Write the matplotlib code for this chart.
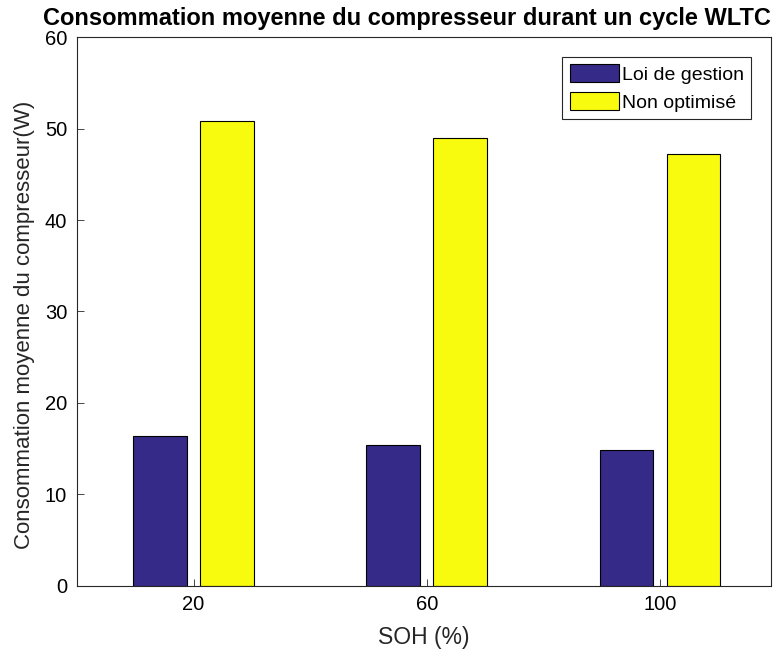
import numpy as np
import matplotlib.pyplot as plt

plt.rcParams['font.family'] = ['Liberation Sans', 'DejaVu Sans']

# Average compressor power over a WLTC cycle, per state of health
soh = [20, 60, 100]
loi_gestion = [16.4, 15.4, 14.9]
non_optimise = [50.8, 49.0, 47.2]
series_names = ['Loi de gestion', 'Non optimisé']
colors = ['#352a87', '#f9fb0e']

fig = plt.figure(figsize=(7.77, 6.53), dpi=100)
ax = fig.add_axes([0.099, 0.103, 0.893, 0.840])

x = np.array(soh)
offset = 5.75
width = 9.2
ax.bar(x - offset, loi_gestion, width, color=colors[0], edgecolor='black',
       linewidth=0.8, label=series_names[0])
ax.bar(x + offset, non_optimise, width, color=colors[1], edgecolor='black',
       linewidth=0.8, label=series_names[1])

ax.set_xlim(0, 119)
ax.set_ylim(0, 60)
ax.set_xticks(soh)
ax.set_yticks(np.arange(0, 61, 10))
ax.tick_params(direction='in', length=5, width=0.6, labelsize=14.5,
               colors='#262626', labelcolor='black', pad=7)
for s in ax.spines.values():
    s.set_color('#262626')
    s.set_linewidth(0.8)

ax.set_xlabel('SOH (%)', fontsize=16.5, color='#262626', labelpad=8)
ax.set_ylabel('Consommation moyenne du compresseur(W)', fontsize=16,
              color='#262626')
ax.yaxis.set_label_coords(-0.06, 0.475)
fig.text(0.524, 0.961, 'Consommation moyenne du compresseur durant un cycle WLTC',
         fontsize=17, fontweight='bold', ha='center', va='baseline')

leg = ax.legend(loc='upper right', fontsize=14, fancybox=False,
                framealpha=1, edgecolor='#262626', borderaxespad=1.0,
                handlelength=2.5, handleheight=1.05, handletextpad=0.15,
                labelspacing=0.4, borderpad=0.4)
leg.get_frame().set_linewidth(0.8)

fig.savefig('out.png', dpi=100)
